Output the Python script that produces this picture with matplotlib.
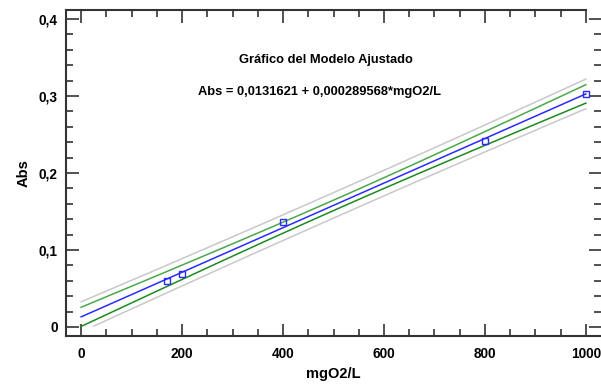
import numpy as np
import matplotlib.pyplot as plt
from matplotlib.ticker import MultipleLocator, FuncFormatter

# data
conc = [170, 200, 400, 800, 1000]          # mgO2/L
absb = [0.060, 0.069, 0.136, 0.242, 0.303]  # Abs
b0 = 0.0131621
b1 = 0.000289568
t95 = 3.182  # t(0.975, df=3)

x = np.array(conc, dtype=float)
y = np.array(absb)
n = len(x)
resid = y - (b0 + b1 * x)
s = np.sqrt(np.sum(resid ** 2) / (n - 2))
xbar = x.mean()
sxx = np.sum((x - xbar) ** 2)

xs = np.linspace(0, 1000, 201)
fit = b0 + b1 * xs
conf = t95 * s * np.sqrt(1 / n + (xs - xbar) ** 2 / sxx)
pred = t95 * s * np.sqrt(1 + 1 / n + (xs - xbar) ** 2 / sxx)

def clip0(v):
    v = v.copy()
    v[v < 0] = np.nan
    return v

plt.rcParams['font.family'] = ['Liberation Sans', 'DejaVu Sans']
plt.rcParams['font.weight'] = 'bold'

fig = plt.figure(figsize=(6.01, 3.86), dpi=100)
ax = fig.add_axes([66 / 601, 1 - 336 / 386, 535 / 601, 326 / 386])

ax.plot(xs, fit + pred, color='#c8c8c8', lw=1.1)
ax.plot(xs, clip0(fit - pred), color='#c8c8c8', lw=1.1)
ax.plot(xs, fit + conf, color='#4aa84a', lw=1.1)
ax.plot(xs, clip0(fit - conf), color='#1e8a1e', lw=1.1)
ax.plot(xs, fit, color='#2a2aff', lw=1.1)
ax.plot(conc, absb, linestyle='none', marker='s', ms=4, mfc='none', mec='#2a2aff', mew=1)

ax.set_xlim(-30, 1030)
ax.set_ylim(-0.0117, 0.4117)
ax.xaxis.set_major_locator(MultipleLocator(200))
ax.xaxis.set_minor_locator(MultipleLocator(50))
ax.yaxis.set_major_locator(MultipleLocator(0.1))
ax.yaxis.set_minor_locator(MultipleLocator(0.02))
ax.yaxis.set_major_formatter(FuncFormatter(lambda v, p: '0' if abs(v) < 1e-9 else ('%.1f' % v).replace('.', ',')))

ax.tick_params(which='both', direction='in', top=True, right=True, color='#333333', width=1.2)
ax.tick_params(which='major', length=9, labelsize=9.8, pad=6)
ax.tick_params(axis='x', which='major', pad=8)
ax.tick_params(which='minor', length=5)
for lab in ax.get_xticklabels() + ax.get_yticklabels():
    lab.set_fontweight('bold')

for side in ['left', 'bottom', 'top']:
    ax.spines[side].set_color('#333333')
    ax.spines[side].set_linewidth(1.5)
ax.spines['right'].set_visible(False)
ax.spines['top'].set_bounds(-30, 1000)

ax.set_xlabel('mgO2/L', fontsize=10.5, fontweight='bold', labelpad=4)
ax.set_ylabel('Abs', fontsize=10.5, fontweight='bold', labelpad=6)

ax.text(0.485, 0.846, 'Gráfico del Modelo Ajustado', transform=ax.transAxes,
        ha='center', va='center', fontsize=9.3, fontweight='bold')
ax.text(0.474, 0.748, 'Abs = 0,0131621 + 0,000289568*mgO2/L', transform=ax.transAxes,
        ha='center', va='center', fontsize=9.3, fontweight='bold')

fig.savefig('out.png', dpi=100)
